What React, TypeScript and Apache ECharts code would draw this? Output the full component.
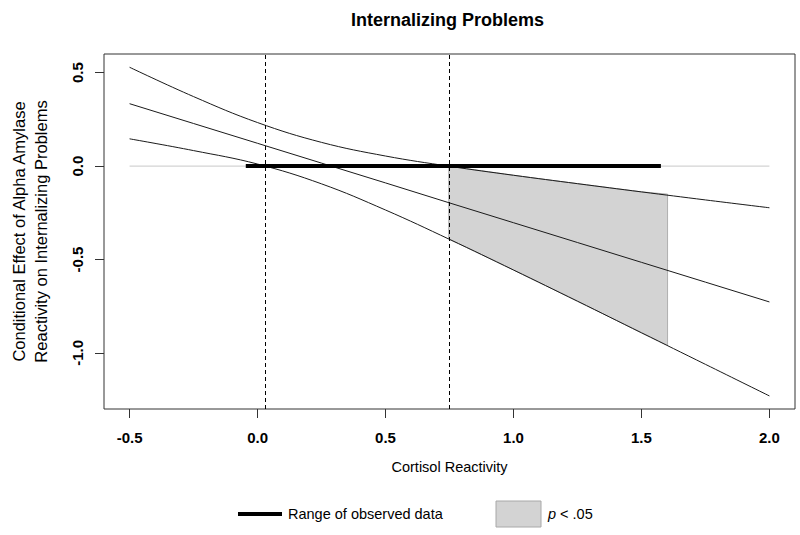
import React, { useEffect, useRef } from "react";
import * as echarts from "echarts";

// Tick labels
const xTicks = [-0.5, 0, 0.5, 1.0, 1.5, 2.0];
const yTicks = [-1.0, -0.5, 0, 0.5];

// Conditional effect (estimate) and 95% CI bounds
const cortisolX = [-0.5, -0.25, 0, 0.25, 0.5, 0.75, 1.0, 1.25, 1.5, 1.75, 2.0];
const effectMid = [0.334, 0.228, 0.122, 0.016, -0.090, -0.197, -0.303, -0.409, -0.515, -0.621, -0.727];
const effectUpper = [0.529, 0.372, 0.233, 0.127, 0.054, -0.001, -0.049, -0.094, -0.138, -0.181, -0.223];
const effectLower = [0.146, 0.083, 0.011, -0.095, -0.235, -0.392, -0.556, -0.723, -0.892, -1.061, -1.230];

// Region of significance (p < .05)
const sigX = [0.747, 1.0, 1.25, 1.5, 1.602];
const sigUpper = [0.0, -0.049, -0.094, -0.138, -0.150];
const sigLower = [-0.390, -0.556, -0.723, -0.892, -0.959];

// Johnson-Neyman boundaries
const jnPoints = [0.033, 0.747];

// Range of observed data
const observedRange = [-0.046, 1.576];
const zeroRange = [-0.5, 2.0];

const FONT = "'Liberation Sans', Arial, sans-serif";

export default function App() {
  const ref = useRef<HTMLDivElement>(null);

  useEffect(() => {
    if (!ref.current) return;
    const chart = echarts.init(ref.current, undefined, { renderer: "svg" });

    const option: any = {
      animation: false,
      backgroundColor: "#ffffff",
      textStyle: { fontFamily: FONT },
      title: {
        text: "Internalizing Problems",
        left: 346,
        top: 6,
        textStyle: { fontFamily: FONT, fontSize: 18, fontWeight: "bold", color: "#000" },
      },
      grid: {
        left: 100,
        top: 54,
        right: 5,
        bottom: 126,
        show: true,
        borderColor: "#333",
        borderWidth: 1,
        backgroundColor: "transparent",
      },
      xAxis: {
        type: "value",
        min: -0.6,
        max: 2.1,
        name: "Cortisol Reactivity",
        nameLocation: "middle",
        nameGap: 50,
        nameTextStyle: { fontFamily: FONT, fontSize: 14.5, color: "#000" },
        axisLine: { show: false, onZero: false },
        splitLine: { show: false },
        axisTick: {
          show: true,
          length: 9,
          customValues: xTicks,
          lineStyle: { color: "#333", width: 1 },
        },
        axisLabel: {
          customValues: xTicks,
          margin: 21,
          fontFamily: FONT,
          fontSize: 15,
          fontWeight: "bold",
          color: "#000",
          formatter: (v: number) => v.toFixed(1),
        },
      },
      yAxis: {
        type: "value",
        min: -1.3,
        max: 0.6,
        name: "Conditional Effect of Alpha Amylase\nReactivity on Internalizing Problems",
        nameLocation: "middle",
        nameRotate: 90,
        nameGap: 52,
        nameTextStyle: { fontFamily: FONT, fontSize: 16.5, lineHeight: 22, color: "#000" },
        axisLine: { show: false, onZero: false },
        splitLine: { show: false },
        axisTick: {
          show: true,
          length: 9,
          customValues: yTicks,
          lineStyle: { color: "#333", width: 1 },
        },
        axisLabel: {
          customValues: yTicks,
          rotate: 90,
          margin: 19,
          fontFamily: FONT,
          fontSize: 15,
          fontWeight: "bold",
          color: "#000",
          formatter: (v: number) => v.toFixed(1),
        },
      },
      series: [
        {
          name: "zero",
          type: "line",
          data: zeroRange.map((x) => [x, 0]),
          symbol: "none",
          lineStyle: { color: "#c8c8c8", width: 1 },
          z: 1,
          silent: true,
        },
        {
          name: "p < .05",
          type: "custom",
          data: [[sigX[0], sigUpper[0]]],
          z: 2,
          silent: true,
          renderItem: (params: any, api: any) => {
            const pts: number[][] = [];
            for (let i = 0; i < sigX.length; i++) pts.push(api.coord([sigX[i], sigUpper[i]]));
            for (let i = sigX.length - 1; i >= 0; i--) pts.push(api.coord([sigX[i], sigLower[i]]));
            return {
              type: "polygon",
              shape: { points: pts },
              style: { fill: "#d3d3d3", stroke: "#b0b0b0", lineWidth: 1 },
            };
          },
        },
        {
          name: "Upper",
          type: "line",
          smooth: 0.4,
          data: cortisolX.map((x, i) => [x, effectUpper[i]]),
          symbol: "none",
          lineStyle: { color: "#1a1a1a", width: 1 },
          z: 3,
        },
        {
          name: "Effect",
          type: "line",
          data: cortisolX.map((x, i) => [x, effectMid[i]]),
          symbol: "none",
          lineStyle: { color: "#1a1a1a", width: 1 },
          z: 3,
        },
        {
          name: "Lower",
          type: "line",
          smooth: 0.4,
          data: cortisolX.map((x, i) => [x, effectLower[i]]),
          symbol: "none",
          lineStyle: { color: "#1a1a1a", width: 1 },
          z: 3,
        },
        {
          name: "Range of observed data",
          type: "line",
          data: observedRange.map((x) => [x, 0]),
          symbol: "none",
          lineStyle: { color: "#000", width: 4 },
          z: 4,
          markLine: {
            silent: true,
            symbol: ["none", "none"],
            label: { show: false },
            lineStyle: { color: "#000", width: 1, type: [4, 3] },
            data: jnPoints.map((x) => ({ xAxis: x })),
          },
        },
      ],
      graphic: [
        {
          type: "line",
          shape: { x1: 238, y1: 514, x2: 282, y2: 514 },
          style: { stroke: "#000", lineWidth: 4 },
        },
        {
          type: "text",
          x: 288,
          y: 514,
          style: {
            text: "Range of observed data",
            fontFamily: FONT,
            fontSize: 14.5,
            fill: "#000",
            verticalAlign: "middle",
          },
        },
        {
          type: "rect",
          shape: { x: 496, y: 501, width: 45, height: 26 },
          style: { fill: "#d3d3d3", stroke: "#a8a8a8", lineWidth: 1 },
        },
        {
          type: "text",
          x: 548,
          y: 514,
          style: {
            text: "{i|p} < .05",
            fontFamily: FONT,
            fontSize: 14.5,
            fill: "#000",
            verticalAlign: "middle",
            rich: {
              i: { fontFamily: FONT, fontSize: 14.5, fontStyle: "italic", fill: "#000" },
            },
          },
        },
      ],
    };

    chart.setOption(option);
    return () => chart.dispose();
  }, []);

  return (
    <div
      ref={ref}
      style={{ position: "fixed", left: 0, top: 0, width: 800, height: 535, background: "#fff" }}
    />
  );
}
